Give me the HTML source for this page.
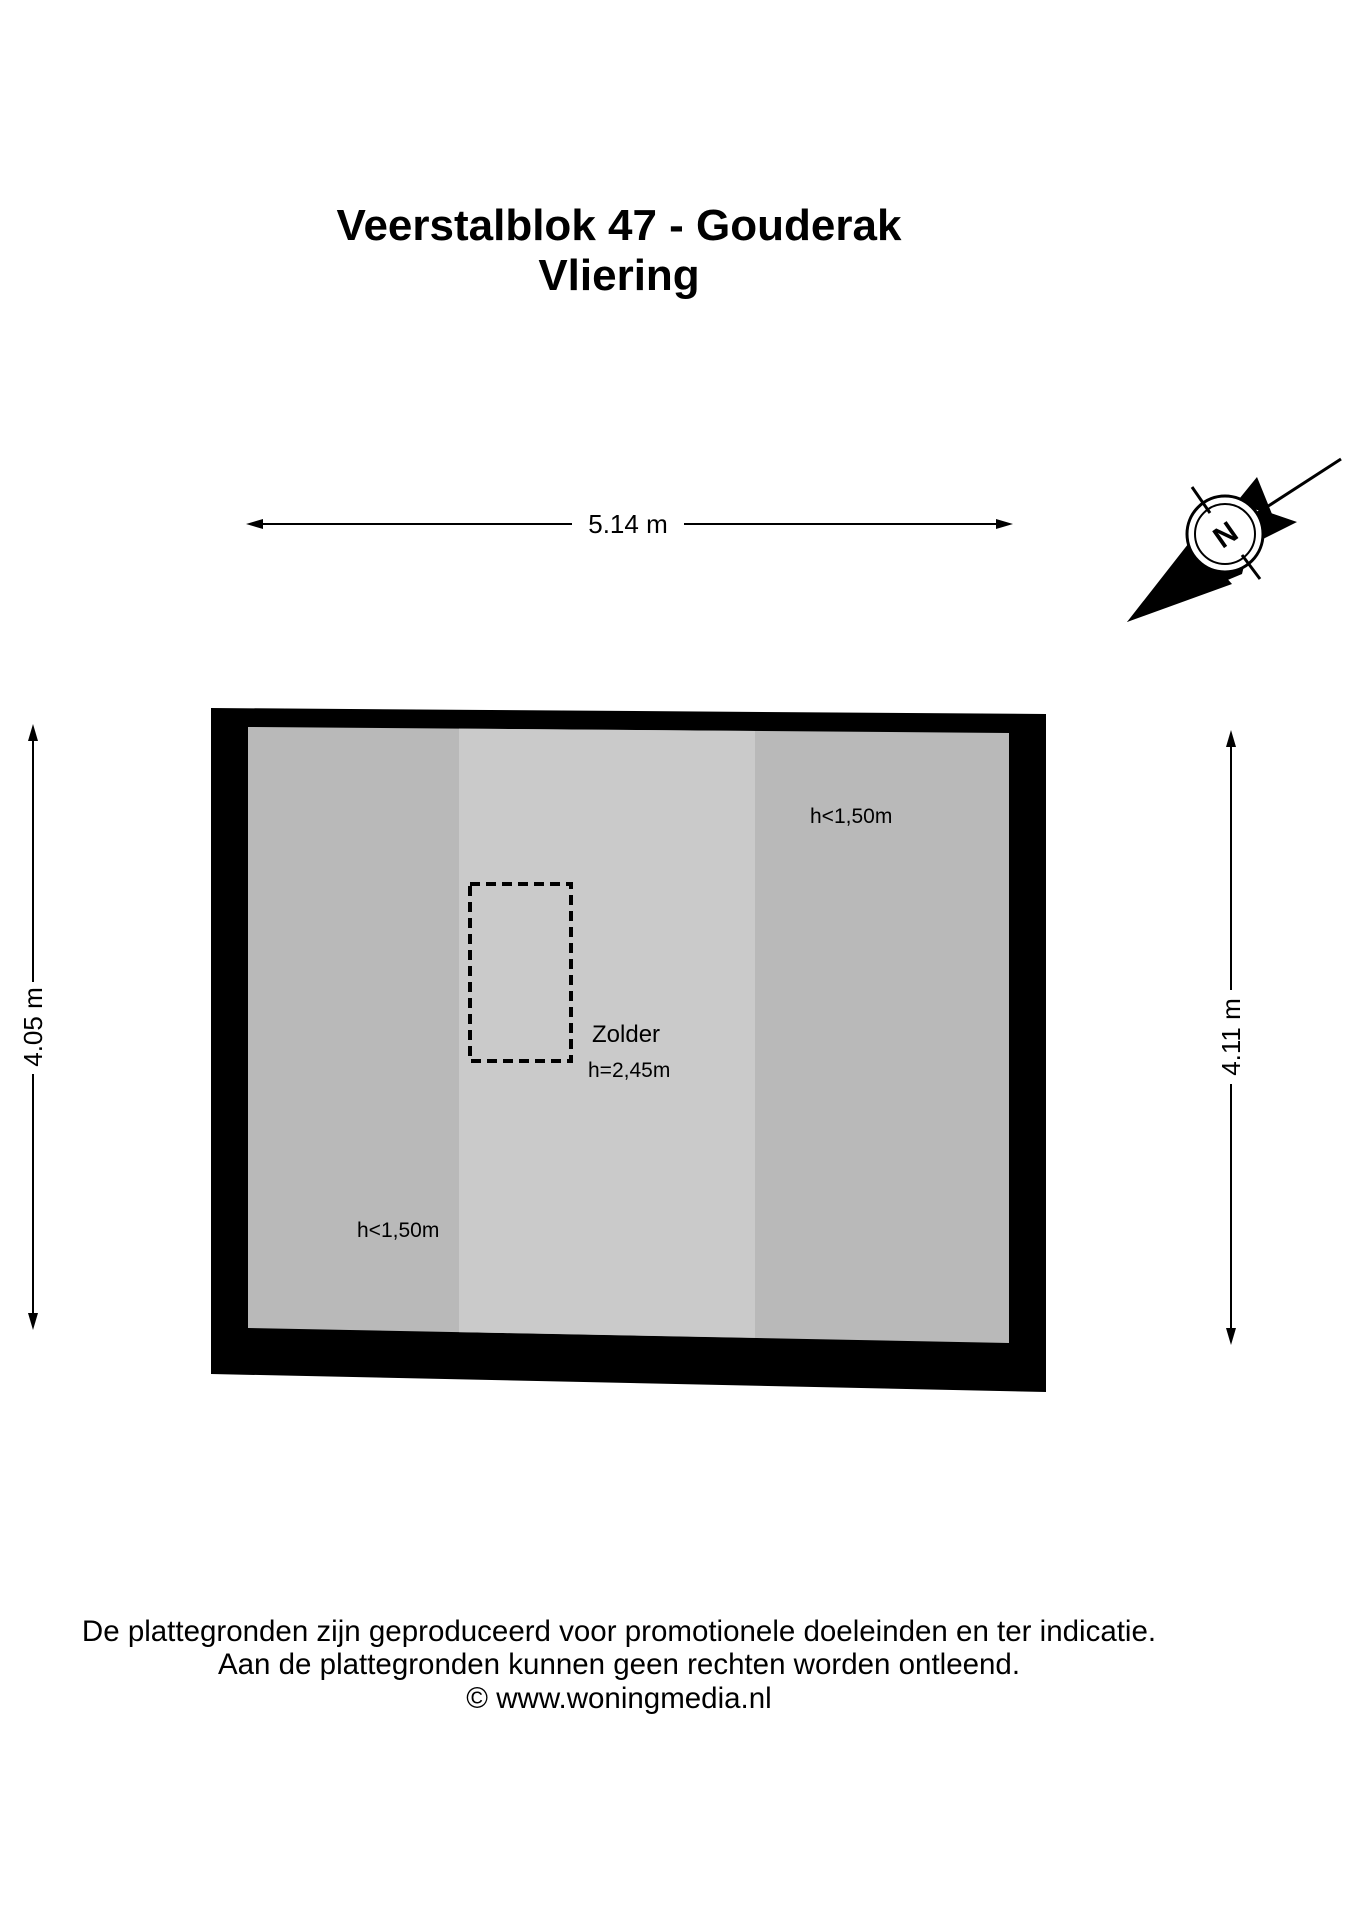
<!DOCTYPE html>
<html><head><meta charset="utf-8"><style>
body{margin:0;background:#fff;}
svg{display:block}
</style></head><body>
<svg width="1358" height="1920" viewBox="0 0 1358 1920" xmlns="http://www.w3.org/2000/svg" font-family="Liberation Sans, Arial, sans-serif">
<rect width="1358" height="1920" fill="#fff"/>
<text x="619" y="240" font-size="44" font-weight="bold" text-anchor="middle">Veerstalblok 47 - Gouderak</text>
<text x="619" y="290" font-size="44" font-weight="bold" text-anchor="middle">Vliering</text>
<g transform="translate(-3,-6)">
<!-- top dim -->
<line x1="255" y1="530" x2="575" y2="530" stroke="#000" stroke-width="2"/>
<line x1="687" y1="530" x2="1010" y2="530" stroke="#000" stroke-width="2"/>
<polygon points="249,530 266,525 266,535" fill="#000"/>
<polygon points="1016,530 999,525 999,535" fill="#000"/>
<text x="631" y="539" font-size="26" text-anchor="middle">5.14 m</text>
<!-- left dim -->
<line x1="36" y1="736" x2="36" y2="988" stroke="#000" stroke-width="2"/>
<line x1="36" y1="1080" x2="36" y2="1330" stroke="#000" stroke-width="2"/>
<polygon points="36,730 31,747 41,747" fill="#000"/>
<polygon points="36,1336 31,1319 41,1319" fill="#000"/>
<text transform="translate(45,1033) rotate(-90)" font-size="26" text-anchor="middle">4.05 m</text>
<!-- right dim -->
<line x1="1234" y1="742" x2="1234" y2="996" stroke="#000" stroke-width="2"/>
<line x1="1234" y1="1090" x2="1234" y2="1345" stroke="#000" stroke-width="2"/>
<polygon points="1234,736 1229,753 1239,753" fill="#000"/>
<polygon points="1234,1351 1229,1334 1239,1334" fill="#000"/>
<text transform="translate(1243,1043) rotate(-90)" font-size="26" text-anchor="middle">4.11 m</text>
<!-- walls -->
<polygon points="214,714 1049,720 1049,1398 214,1380" fill="#000"/>
<polygon points="251,733 1012,739 1012,1349 251,1334" fill="#b9b9b9"/>
<polygon points="462,734.6 758,737 758,1343.8 462,1338.1" fill="#cacaca"/>
<rect x="473" y="890" width="101" height="177" fill="none" stroke="#000" stroke-width="4" stroke-dasharray="10,6"/>
<text x="595" y="1048" font-size="24">Zolder</text>
<text x="591" y="1083" font-size="21">h=2,45m</text>
<text x="813" y="829" font-size="21">h&lt;1,50m</text>
<text x="360" y="1243" font-size="21">h&lt;1,50m</text>
<!-- compass -->
<line x1="1228" y1="540" x2="1344" y2="465" stroke="#000" stroke-width="3"/>
<polygon points="1130,628 1200,560 1250,560 1245,580" fill="#000"/>
<polygon points="1260,483 1275,520 1238,510" fill="#000"/>
<polygon points="1300,528 1260,548 1262,515" fill="#000"/>
<polygon points="1130,628 1195,545 1235,590" fill="#000"/>
<circle cx="1228" cy="540" r="38" fill="#fff" stroke="#000" stroke-width="3"/>
<circle cx="1228" cy="540" r="30" fill="none" stroke="#000" stroke-width="2"/>
<line x1="1195" y1="493" x2="1213" y2="519" stroke="#000" stroke-width="3"/>
<line x1="1245" y1="561" x2="1263" y2="585" stroke="#000" stroke-width="3"/>
<text x="1228" y="551" font-size="30" font-weight="bold" text-anchor="middle" transform="rotate(-35 1228 540)">N</text>
</g>
<!-- footer -->
<text x="619" y="1651" font-size="29.5" text-anchor="middle" transform="translate(0,-10)">De plattegronden zijn geproduceerd voor promotionele doeleinden en ter indicatie.</text>
<text x="619" y="1684" font-size="29.5" text-anchor="middle" transform="translate(0,-10)">Aan de plattegronden kunnen geen rechten worden ontleend.</text>
<text x="619" y="1718" font-size="29.5" text-anchor="middle" transform="translate(0,-10)">© www.woningmedia.nl</text>
</svg>
</body></html>
